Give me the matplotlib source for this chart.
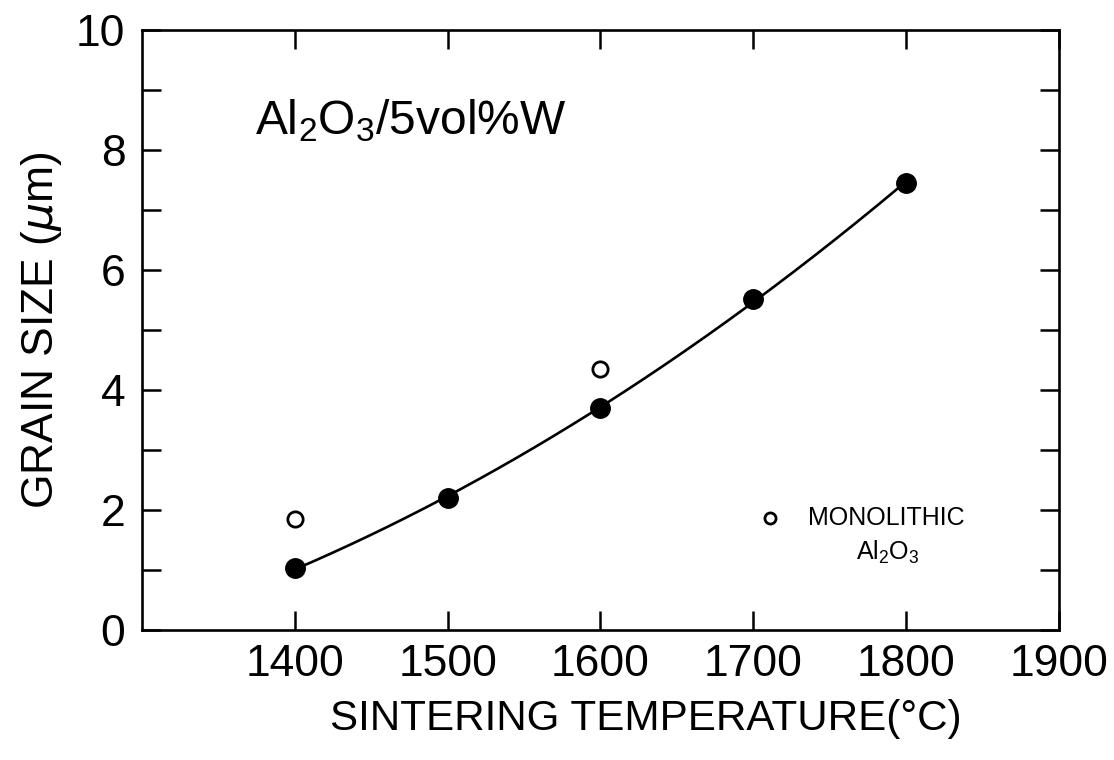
import matplotlib
matplotlib.use("Agg")
import matplotlib.pyplot as plt
from matplotlib import font_manager
import numpy as np

# data
temp_w = [1400, 1500, 1600, 1700, 1800]
grain_w = [1.03, 2.2, 3.7, 5.52, 7.45]
temp_mono = [1400, 1600]
grain_mono = [1.85, 4.35]
xticks = [1400, 1500, 1600, 1700, 1800, 1900]
yticks = [0, 2, 4, 6, 8, 10]

plt.rcParams['font.family'] = ['Liberation Sans', 'DejaVu Sans']
plt.rcParams['mathtext.fontset'] = 'custom'
plt.rcParams['mathtext.rm'] = 'Liberation Sans'

# the original lettering is condensed; use the narrow face if it is there
names = {f.name for f in font_manager.fontManager.ttflist}
narrow = 'Liberation Sans Narrow' in names
lab_font = 'Liberation Sans Narrow' if narrow else 'Liberation Sans'
k = 1.0 if narrow else 0.82

fig = plt.figure(figsize=(11.14, 7.6), dpi=100)
ax = fig.add_axes([0.1275, 0.171, 0.823, 0.7895])

# smooth trend through the filled points (quadratic fit)
coef = np.polyfit(temp_w, grain_w, 2)
xx = np.linspace(temp_w[0], temp_w[-1], 200)
ax.plot(xx, np.polyval(coef, xx), color='black', lw=1.9, zorder=2)

ax.plot(temp_w, grain_w, 'o', color='black', ms=14, zorder=3)
ax.plot(temp_mono, grain_mono, 'o', mfc='white', mec='black', mew=2, ms=11, zorder=3)

# legend-like note
ax.plot([1711], [1.87], 'o', mfc='white', mec='black', mew=2, ms=8)
ax.text(1736, 1.87, 'MONOLITHIC', fontsize=22 * k, family=lab_font,
        va='center', ha='left')
ax.text(1788, 1.3, 'Al$_2$O$_3$', fontsize=22 * k, family=lab_font,
        va='center', ha='center')

ax.text(1374, 8.26, 'Al$_2$O$_3$/5vol%W', fontsize=42 * k, family=lab_font,
        va='baseline', ha='left')

ax.set_xlim(1300, 1900)
ax.set_ylim(0, 10)
ax.set_xticks(xticks)
ax.set_yticks(yticks)
ax.set_yticks([1, 3, 5, 7, 9], minor=True)
ax.tick_params(which='both', direction='in', top=True, right=True,
               length=14, width=1.8)
ax.tick_params(axis='x', labelsize=32, pad=10)
ax.tick_params(axis='y', labelsize=32, pad=12)
for s in ax.spines.values():
    s.set_linewidth(1.9)

ax.set_xlabel('SINTERING TEMPERATURE(°C)', fontsize=37 * k, family=lab_font)
ax.set_ylabel('GRAIN SIZE ($\\mu$m)', fontsize=39 * k, family=lab_font)
ax.xaxis.set_label_coords(0.55, -0.115)
ax.yaxis.set_label_coords(-0.085, 0.5)

fig.savefig('out.png', dpi=100)
